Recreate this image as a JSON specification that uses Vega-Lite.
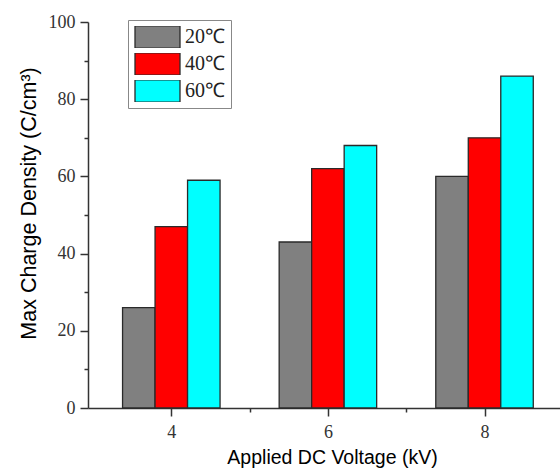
{
  "$schema": "https://vega.github.io/schema/vega-lite/v6.json",
  "width": 472,
  "height": 386,
  "autosize": {"type": "none"},
  "padding": {"left": 88, "top": 22, "right": 0, "bottom": 63},
  "background": "white",
  "config": {"view": {"stroke": null}},
  "data": {
    "values": [
      {"voltage": 4, "temp": "20℃", "density": 26},
      {"voltage": 4, "temp": "40℃", "density": 47},
      {"voltage": 4, "temp": "60℃", "density": 59},
      {"voltage": 6, "temp": "20℃", "density": 43},
      {"voltage": 6, "temp": "40℃", "density": 62},
      {"voltage": 6, "temp": "60℃", "density": 68},
      {"voltage": 8, "temp": "20℃", "density": 60},
      {"voltage": 8, "temp": "40℃", "density": 70},
      {"voltage": 8, "temp": "60℃", "density": 86}
    ]
  },
  "resolve": {"axis": {"x": "independent", "y": "independent"}},
  "layer": [
    {
      "transform": [{"filter": "datum.temp === '20℃'"}],
      "mark": {"type": "bar", "width": 32.5, "xOffset": -32.5, "stroke": "#2a2a2a", "strokeWidth": 1.3},
      "encoding": {
        "x": {
          "field": "voltage", "type": "quantitative",
          "scale": {"domain": [3, 8.9], "nice": false, "zero": false},
          "axis": {
            "orient": "bottom", "values": [4, 6, 8], "grid": false,
            "title": "Applied DC Voltage (kV)", "titleFont": "Liberation Sans", "titleFontSize": 19.5, "titleFontWeight": "normal", "titleColor": "#000",
            "titlePadding": 7, "titleX": 244,
            "labelFont": "Liberation Serif", "labelFontSize": 18, "labelColor": "#333", "labelPadding": 7,
            "tickSize": 8, "tickColor": "#333", "tickWidth": 1.5, "domainColor": "#333", "domainWidth": 1.5
          }
        },
        "y": {
          "field": "density", "type": "quantitative",
          "scale": {"domain": [0, 100], "nice": false},
          "axis": {
            "orient": "left", "values": [0, 20, 40, 60, 80, 100], "grid": false,
            "title": "Max Charge Density (C/cm³)", "titleFont": "Liberation Sans", "titleFontSize": 21.5, "titleFontWeight": "normal", "titleColor": "#000",
            "titleX": -48, "titleY": 181,
            "labelFont": "Liberation Serif", "labelFontSize": 18, "labelColor": "#333", "labelPadding": 5,
            "tickSize": 8, "tickColor": "#333", "tickWidth": 1.5, "domainColor": "#333", "domainWidth": 1.5
          }
        },
        "color": {
          "field": "temp", "type": "nominal",
          "scale": {"domain": ["20℃", "40℃", "60℃"], "range": ["#808080", "#ff0000", "#00ffff"]},
          "legend": {
            "orient": "none", "legendX": 40, "legendY": -2, "title": null,
            "symbolType": "M-1,-0.5H1V0.5H-1Z", "symbolSize": 2025, "symbolStrokeColor": "#222", "symbolStrokeWidth": 1.3, "symbolOpacity": 1,
            "clipHeight": 22,
            "labelFont": "Liberation Serif", "labelFontSize": 20, "labelColor": "#222", "labelOffset": 4,
            "strokeColor": "#888", "fillColor": "white", "padding": 6, "rowPadding": 5
          }
        }
      }
    },
    {
      "transform": [{"filter": "datum.temp === '40℃'"}],
      "mark": {"type": "bar", "width": 32.5, "xOffset": 0, "stroke": "#2a2a2a", "strokeWidth": 1.3},
      "encoding": {
        "x": {"field": "voltage", "type": "quantitative", "axis": null},
        "y": {"field": "density", "type": "quantitative", "axis": null},
        "color": {"field": "temp", "type": "nominal"}
      }
    },
    {
      "transform": [{"filter": "datum.temp === '60℃'"}],
      "mark": {"type": "bar", "width": 32.5, "xOffset": 32.5, "stroke": "#2a2a2a", "strokeWidth": 1.3},
      "encoding": {
        "x": {"field": "voltage", "type": "quantitative", "axis": null},
        "y": {"field": "density", "type": "quantitative", "axis": null},
        "color": {"field": "temp", "type": "nominal"}
      }
    },
    {
      "mark": {"type": "point", "opacity": 0},
      "encoding": {
        "x": {"field": "voltage", "type": "quantitative",
          "axis": {"orient": "bottom", "values": [5, 7], "labels": false, "domain": false, "grid": false, "title": null, "tickSize": 4, "tickColor": "#333", "tickWidth": 1.5}},
        "y": {"field": "density", "type": "quantitative",
          "axis": {"orient": "left", "values": [10, 30, 50, 70, 90], "labels": false, "domain": false, "grid": false, "title": null, "tickSize": 4, "tickColor": "#333", "tickWidth": 1.5}}
      }
    }
  ]
}
